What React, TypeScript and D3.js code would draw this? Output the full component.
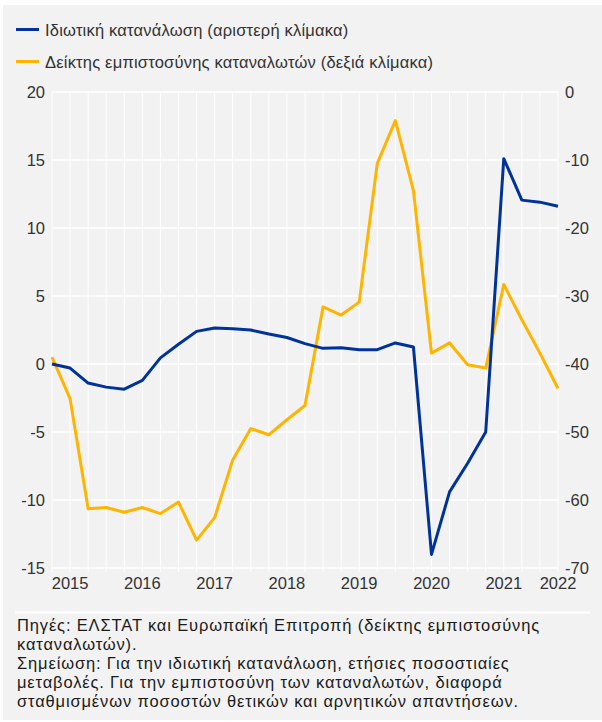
import * as d3 from "d3"

// quarterly observations, 2015Q1 .. 2022Q1
const quarters = [
  "2015Q1", "2015Q2", "2015Q3", "2015Q4",
  "2016Q1", "2016Q2", "2016Q3", "2016Q4",
  "2017Q1", "2017Q2", "2017Q3", "2017Q4",
  "2018Q1", "2018Q2", "2018Q3", "2018Q4",
  "2019Q1", "2019Q2", "2019Q3", "2019Q4",
  "2020Q1", "2020Q2", "2020Q3", "2020Q4",
  "2021Q1", "2021Q2", "2021Q3", "2021Q4",
  "2022Q1",
]

// private consumption, y-o-y % (left scale)
const consumption = [
  0.0, -0.3, -1.4, -1.7, -1.85, -1.2, 0.45, 1.45, 2.4, 2.65, 2.6, 2.5, 2.2, 1.95, 1.5,
  1.15, 1.2, 1.05, 1.05, 1.55, 1.25, -14.0, -9.4, -7.3, -5.0, 15.1, 12.05, 11.9, 11.6,
]

// consumer confidence, balance (right scale)
const confidence = [
  -39.0, -45.1, -61.3, -61.1, -61.8, -61.1, -62.0, -60.3, -65.9, -62.6, -54.1, -49.5,
  -50.4, -48.2, -46.1, -31.6, -32.8, -30.9, -10.5, -4.2, -14.5, -38.4, -36.9, -40.1,
  -40.6, -28.3, -33.5, -38.4, -43.6,
]

const leftTicks = [-15, -10, -5, 0, 5, 10, 15, 20]
const rightTicks = [-70, -60, -50, -40, -30, -20, -10, 0]
const yearTicks = ["2015Q2", "2016Q2", "2017Q2", "2018Q2", "2019Q2", "2020Q2", "2021Q2", "2022Q1"]
const yearLabels = ["2015", "2016", "2017", "2018", "2019", "2020", "2021", "2022"]

const seriesNames = [
  "Ιδιωτική κατανάλωση (αριστερή κλίμακα)",
  "Δείκτης εμπιστοσύνης καταναλωτών (δεξιά κλίμακα)",
]

const footnote = [
  "Πηγές: ΕΛΣΤΑΤ και Ευρωπαϊκή Επιτροπή (δείκτης εμπιστοσύνης",
  "καταναλωτών).",
  "Σημείωση: Για την ιδιωτική κατανάλωση, ετήσιες ποσοστιαίες",
  "μεταβολές. Για την εμπιστοσύνη των καταναλωτών, διαφορά",
  "σταθμισμένων ποσοστών θετικών και αρνητικών απαντήσεων.",
]

const BLUE = "#003399"
const YELLOW = "#ffb400"
const TEXT = "#333333"
const FONT = "'Liberation Sans', Arial, sans-serif"

export default function App() {
  const width = 602
  const height = 722
  const left = 52
  const right = 558
  const top = 92
  const bottom = 568

  const x = d3.scalePoint<string>().domain(quarters).range([left, right])
  const yLeft = d3.scaleLinear().domain([-15, 20]).range([bottom, top])
  const yRight = d3.scaleLinear().domain([-70, 0]).range([bottom, top])

  const lineLeft = d3
    .line<number>()
    .x((_, i) => x(quarters[i]) as number)
    .y((d) => yLeft(d))
  const lineRight = d3
    .line<number>()
    .x((_, i) => x(quarters[i]) as number)
    .y((d) => yRight(d))

  const colors = [BLUE, YELLOW]

  return (
    <div style={{ position: "absolute", left: 0, top: 0 }}>
      <svg width={width} height={height} style={{ display: "block", fontFamily: FONT }}>
        <rect x={0} y={0} width={width} height={height} fill="#ffffff" />
        <rect x={3} y={5} width={width - 3} height={height - 7} fill="#f2f2f2" />

        {/* legend */}
        {seriesNames.map((name, i) => (
          <g key={name}>
            <line x1={16} x2={39} y1={29.5 + i * 32} y2={29.5 + i * 32} stroke={colors[i]} strokeWidth={3} />
            <text x={45} y={35.5 + i * 32} fontSize={16.5} letterSpacing={0.2} fill={TEXT}>
              {name}
            </text>
          </g>
        ))}

        {/* grid */}
        {quarters.map((q) => (
          <line key={q} x1={x(q)} x2={x(q)} y1={top} y2={bottom + 4} stroke="#ffffff" strokeWidth={1} />
        ))}
        {leftTicks.map((t) => (
          <line key={t} x1={left} x2={right} y1={yLeft(t)} y2={yLeft(t)} stroke="#ffffff" strokeWidth={1.6} />
        ))}

        {/* axes labels */}
        {leftTicks.map((t) => (
          <text key={t} x={45} y={yLeft(t)} dy="0.36em" textAnchor="end" fontSize={16.5} fill={TEXT}>
            {t}
          </text>
        ))}
        {rightTicks.map((t) => (
          <text key={t} x={565} y={yRight(t)} dy="0.36em" textAnchor="start" fontSize={16.5} fill={TEXT}>
            {t}
          </text>
        ))}
        {yearTicks.map((q, i) => (
          <text key={q} x={x(q)} y={588.5} textAnchor="middle" fontSize={16.5} fill={TEXT}>
            {yearLabels[i]}
          </text>
        ))}

        {/* series */}
        <path d={lineRight(confidence) ?? ""} fill="none" stroke={YELLOW} strokeWidth={3} strokeLinejoin="round" />
        <path d={lineLeft(consumption) ?? ""} fill="none" stroke={BLUE} strokeWidth={3} strokeLinejoin="round" />

        {/* footnote */}
        <line x1={15} x2={590} y1={612.5} y2={612.5} stroke="#ffffff" strokeWidth={2} />
        {footnote.map((line, i) => (
          <text key={i} x={17} y={631 + i * 19} fontSize={16.5} letterSpacing={0.85} fill="#1a1a1a">
            {line}
          </text>
        ))}
      </svg>
    </div>
  )
}
